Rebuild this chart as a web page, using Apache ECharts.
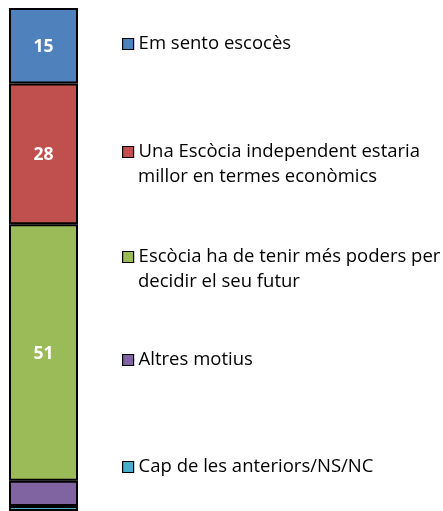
<!DOCTYPE html>
<html><head><meta charset="utf-8">
<script src="https://cdn.jsdelivr.net/npm/echarts@6/dist/echarts.min.js"></script>
<style>html,body{margin:0;padding:0;background:#fff}#c{width:443px;height:511px}</style>
</head><body><div id="c"></div>
<script>
var categories = ['Motius'];
var seriesNames = ['Em sento escocès', 'Una Escòcia independent estaria millor en termes econòmics', 'Escòcia ha de tenir més poders per decidir el seu futur', 'Altres motius', 'Cap de les anteriors/NS/NC'];
var legendLines = [['Em sento escocès'], ['Una Escòcia independent estaria', 'millor en termes econòmics'], ['Escòcia ha de tenir més poders per', 'decidir el seu futur'], ['Altres motius'], ['Cap de les anteriors/NS/NC']];
var values = [15, 28, 51, 5, 1];
var colors = ['#4F81BD', '#C0504D', '#9BBB59', '#8064A2', '#4BACC6'];
var showLabel = [true, true, true, false, false];
var legendCenters = [44, 152, 257, 360, 467];
var LINE_H = 24.5;

var chart = echarts.init(document.getElementById('c'));
var series = values.map(function (v, i) {
  return {
    name: seriesNames[i], type: 'bar', stack: 'all', barWidth: '100%',
    data: [v],
    itemStyle: { color: colors[i], borderColor: '#000', borderWidth: 2 },
    label: { show: showLabel[i], position: 'inside', offset: [0, 1], color: '#fff', fontWeight: 'bold', fontSize: 17.5, fontFamily: 'Open Sans' }
  };
});
var legends = [];
seriesNames.forEach(function (n, i) {
  legendLines[i].forEach(function (line, j) {
    legends.push({
      data: [j === 0 ? { name: n, icon: 'rect' } : { name: n, icon: 'rect', itemStyle: { color: 'rgba(0,0,0,0)', borderWidth: 0 } }],
      left: 122, top: legendCenters[i] + j * LINE_H - 12, padding: 0,
      itemWidth: 11, itemHeight: 11, itemGap: 5,
      itemStyle: j === 0 ? { borderColor: '#000', borderWidth: 1.2 } : { borderWidth: 0 },
      selectedMode: false,
      formatter: (function (t) { return function () { return t; }; })(line),
      textStyle: { fontFamily: 'Open Sans', fontSize: 18.5, color: '#000', lineHeight: 24 }
    });
  });
});
chart.setOption({
  animation: false,
  grid: { left: 9, width: 69, top: 8, bottom: 0 },
  xAxis: { type: 'category', data: categories, show: false },
  yAxis: { type: 'value', min: 0, max: 100, show: false, inverse: true },
  legend: legends,
  series: series
});
</script></body></html>
